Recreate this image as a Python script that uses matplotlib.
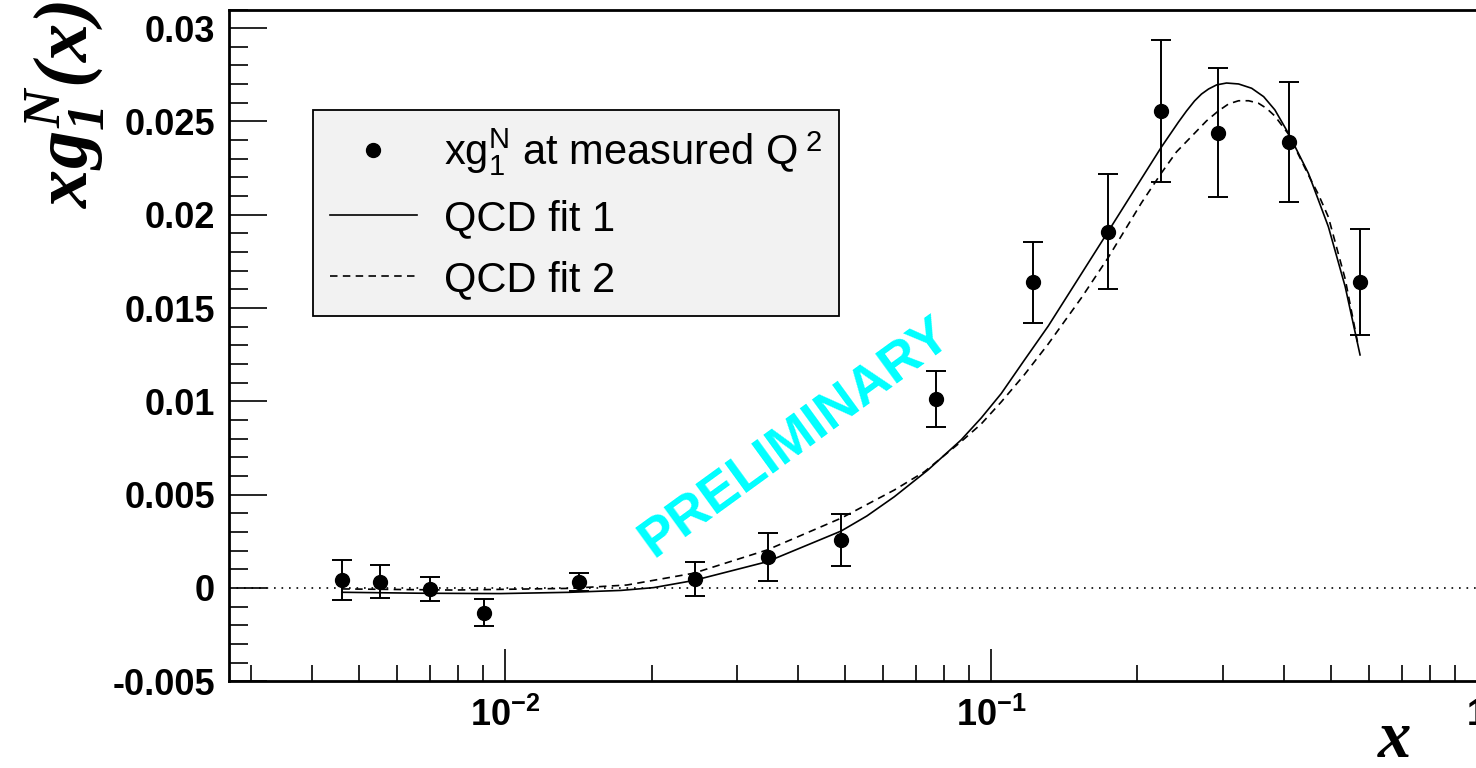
import math
import matplotlib
matplotlib.use('Agg')
import matplotlib.pyplot as plt
from matplotlib.lines import Line2D
from matplotlib.ticker import LogLocator, MultipleLocator, FuncFormatter

# measured points
pts_x = [0.00461, 0.00551, 0.00701, 0.00902, 0.01416, 0.02453, 0.03469, 0.04905,
         0.0770, 0.1222, 0.1740, 0.2241, 0.2934, 0.4110, 0.5745]
pts_y = [0.00043, 0.00034, -0.00005, -0.00132, 0.00031, 0.00047, 0.00165, 0.00257,
         0.01013, 0.01638, 0.01909, 0.02558, 0.02440, 0.02389, 0.01642]
pts_err = [0.00105, 0.00087, 0.00063, 0.00074, 0.00048, 0.00091, 0.00130, 0.00137,
           0.00151, 0.00217, 0.00308, 0.00380, 0.00347, 0.00323, 0.00284]

# QCD fit 1 (solid)
fit1_x = [0.00463, 0.00668, 0.00977, 0.0136, 0.0173, 0.0202, 0.0244, 0.0346, 0.0491,
          0.0555, 0.0632, 0.0741, 0.0867, 0.0954, 0.1049, 0.1169, 0.1311, 0.1533,
          0.1740, 0.1971, 0.2241, 0.2430, 0.2524, 0.2622, 0.2710, 0.2802, 0.2911,
          0.3051, 0.3230, 0.3437, 0.3638, 0.3837, 0.4090, 0.4498, 0.4944, 0.5354,
          0.5745]
fit1_y = [-0.00023, -0.00028, -0.00030, -0.00023, -0.00013, 0.00002, 0.00040, 0.00141,
          0.00305, 0.00386, 0.00489, 0.00632, 0.00793, 0.00911, 0.01042, 0.01219,
          0.01404, 0.01683, 0.01909, 0.02133, 0.02363, 0.02497, 0.02556, 0.02610,
          0.02647, 0.02674, 0.02696, 0.02706, 0.02701, 0.02678, 0.02633, 0.02562,
          0.02437, 0.02222, 0.01936, 0.01615, 0.01249]

# QCD fit 2 (dashed)
fit2_x = [0.00462, 0.00781, 0.0136, 0.0178, 0.0244, 0.0346, 0.0491, 0.0632, 0.0729,
          0.0867, 0.0954, 0.1049, 0.1169, 0.1311, 0.1533, 0.1740, 0.2039, 0.2241,
          0.2407, 0.2585, 0.2775, 0.2934, 0.3081, 0.3230, 0.3388, 0.3548, 0.3690,
          0.3837, 0.4090, 0.4498, 0.4722, 0.4944, 0.5354, 0.5702]
fit2_y = [-0.00005, -0.00011, -0.00002, 0.00016, 0.00079, 0.00204, 0.00374, 0.00525,
          0.00623, 0.00784, 0.00879, 0.00997, 0.01141, 0.01308, 0.01554, 0.01769,
          0.02064, 0.02224, 0.02337, 0.02420, 0.02503, 0.02556, 0.02594, 0.02611,
          0.02611, 0.02598, 0.02570, 0.02529, 0.02433, 0.02213, 0.02106, 0.01988,
          0.01656, 0.01292]

plt.rcParams['font.family'] = 'Liberation Sans'
plt.rcParams['font.weight'] = 'bold'
plt.rcParams['mathtext.fontset'] = 'custom'
plt.rcParams['mathtext.rm'] = 'Liberation Serif:bold:italic'
plt.rcParams['mathtext.it'] = 'Liberation Serif:bold:italic'
plt.rcParams['mathtext.bf'] = 'Liberation Sans:bold'
plt.rcParams['mathtext.sf'] = 'Liberation Sans:weight=normal'

fig = plt.figure(figsize=(14.76, 7.68), dpi=100)
ax = fig.add_axes([229 / 1476, 86.7 / 768, 1248 / 1476, 671.8 / 768])

ax.axhline(0, color='k', lw=1.2, ls=(0, (1, 3.5)), zorder=1)
ax.plot(fit1_x, fit1_y, color='k', lw=1.2, zorder=2)
ax.plot(fit2_x, fit2_y, color='k', lw=1.2, ls=(0, (4.5, 3.2)), zorder=2)
ax.errorbar(pts_x, pts_y, yerr=pts_err, fmt='o', color='k', ms=10,
            elinewidth=1.4, capsize=7, capthick=1.4, zorder=3)

ax.set_xscale('log')
ax.set_xlim(0.0027, 1.0)
ax.set_ylim(-0.005, 0.031)

ax.yaxis.set_major_locator(MultipleLocator(0.005))
ax.yaxis.set_minor_locator(MultipleLocator(0.001))
ax.yaxis.set_major_formatter(FuncFormatter(lambda v, p: f'{v:g}' if abs(v) > 1e-9 else '0'))
ax.xaxis.set_major_locator(LogLocator(base=10))
ax.xaxis.set_minor_locator(LogLocator(base=10, subs=range(2, 10)))


def xfmt(v, p):
    if abs(v - 1) < 1e-9:
        return '1'
    return r'$\mathbf{10^{%d}}$' % int(round(math.log10(v)))


ax.xaxis.set_major_formatter(FuncFormatter(xfmt))
ax.xaxis.set_minor_formatter(FuncFormatter(lambda v, p: ''))

ax.tick_params(which='both', direction='in', top=False, right=False, width=1.2,
               labelsize=26)
ax.tick_params(axis='y', which='major', length=27, pad=10)
ax.tick_params(axis='y', which='minor', length=14)
ax.tick_params(axis='x', which='major', length=23, pad=12)
ax.tick_params(axis='x', which='minor', length=11.5)
for s in ['top', 'left', 'bottom']:
    ax.spines[s].set_linewidth(2)
ax.spines['right'].set_visible(False)

ax.set_ylabel(r'$xg_{1}^{N}(x)$', fontsize=55, rotation=90,
              ha='right', va='center', rotation_mode='anchor')
ax.yaxis.set_label_coords(-0.131, 1.013)
ax.set_xlabel(r'$x$', fontsize=48, va='center', ha='center')
ax.xaxis.set_label_coords(0.934, -0.088)

ax.text(0.4535, 0.3627, 'PRELIMINARY', transform=ax.transAxes, fontsize=39,
        fontweight='bold', color='#00ffff', rotation=36, rotation_mode='anchor',
        ha='center', va='center')

handles = [
    Line2D([], [], marker='o', ls='none', color='k', ms=10),
    Line2D([], [], color='k', lw=1.2),
    Line2D([], [], color='k', lw=1.2, ls=(0, (4.5, 3.2))),
]
labels = [r'$\mathsf{xg_{1}^{N}}$ at measured $\mathsf{Q}^{\ \mathsf{2}}$',
          'QCD fit 1', 'QCD fit 2']
leg = ax.legend(handles, labels, loc='upper left', bbox_to_anchor=(0.0673, 0.851),
                borderaxespad=0, prop={'size': 30, 'weight': 'normal'},
                handlelength=2.1, handletextpad=0.65, borderpad=0.4,
                labelspacing=0.5, fancybox=False, framealpha=1,
                facecolor='#f2f2f2', edgecolor='k')
leg.get_frame().set_linewidth(1.3)

fig.savefig('out.png', dpi=100)
